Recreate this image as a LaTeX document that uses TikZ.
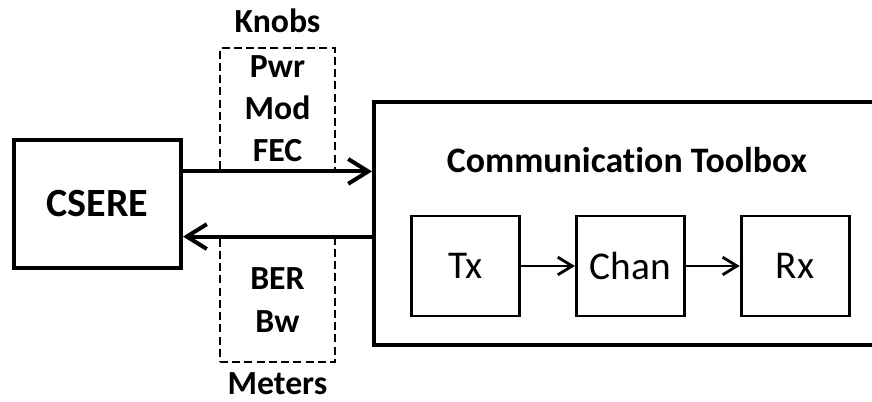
\documentclass[tikz,border=0pt]{standalone}
\usepackage{fontspec}
\setmainfont{Carlito}[Ligatures=NoCommon]
\usetikzlibrary{positioning, arrows.meta}

\begin{document}
\begin{tikzpicture}[
        node distance=1.35cm,
        bigbox/.style={rectangle, draw, line width=2.85pt, inner sep=0pt},
        blk/.style={rectangle, draw, line width=2pt, minimum width=2.7cm, minimum height=2.5cm, font=\fontsize{28}{32}\selectfont},
        dbox/.style={rectangle, draw, dash pattern=on 5.7pt off 3pt, line width=2pt, minimum width=2.875cm, align=center, font=\fontsize{24}{30}\selectfont\bfseries},
        lbl/.style={font=\fontsize{24}{28}\selectfont\bfseries},
        bigarrow/.style={-{Straight Barb[length=5mm, width=6.2mm]}, line width=2.85pt},
        arrow/.style={-{Straight Barb[length=3.6mm, width=4.4mm]}, line width=2pt}
    ]
        \clip (0,0) rectangle (21.8,10.05);

        % CSERE
        \node[bigbox, minimum width=4.175cm, minimum height=3.2cm, font=\fontsize{28.5}{32}\selectfont\bfseries] (CSERE) at (2.4375,4.95) {CSERE};

        % Communication Toolbox
        \node[bigbox, minimum width=13.15cm, minimum height=6.075cm] (CT) at (15.925,4.4625) {};
        \node[lbl, font=\fontsize{25.5}{28}\selectfont\bfseries] (CTtitle) at (15.675,6.05) {Communication Toolbox};

        % Tx, Chan, Rx
        \node[blk] (TX) at (11.6375,3.4) {Tx};
        \node[blk, right=of TX] (CHAN) {Chan};
        \node[blk, right=of CHAN] (RX) {Rx};

        % Knobs and meters
        \node[dbox, minimum height=3.05cm] (KNOBS) at (6.9375,7.325) {Pwr\\Mod\\FEC};
        \node[lbl, above=0.22cm of KNOBS] (KNOBSLBL) {Knobs};
        \node[dbox, minimum height=3.1cm] (METERS) at (6.9375,2.55) {BER\\Bw};
        \node[lbl, below=0.1cm of METERS] (METERSLBL) {Meters};

        % Arrows
        \draw[bigarrow] (CSERE.east |- KNOBS.south) -- (KNOBS.south -| CT.west);
        \draw[bigarrow] (METERS.north -| CT.west) -- (METERS.north -| CSERE.east);
        \draw[arrow] (TX) -- (CHAN);
        \draw[arrow] (CHAN) -- (RX);
    \end{tikzpicture}
\end{document}
